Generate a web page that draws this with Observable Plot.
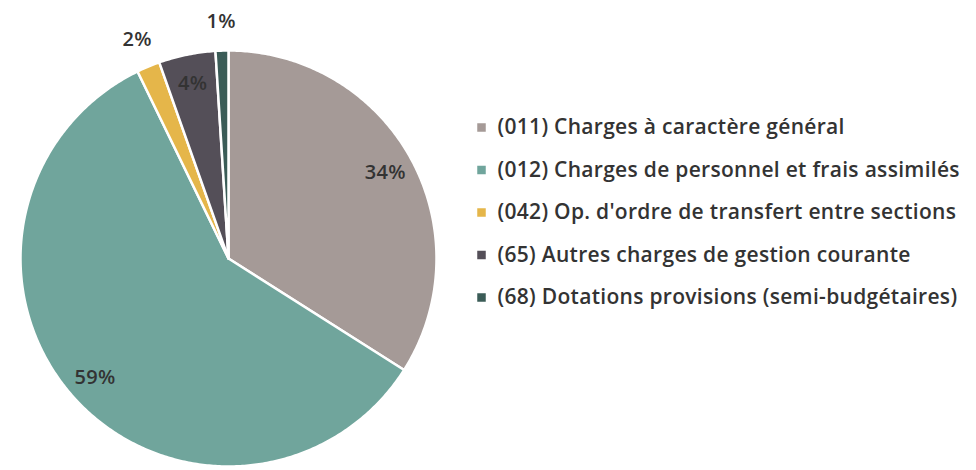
<!DOCTYPE html>
<html><head><meta charset="utf-8">
<script src="https://cdn.jsdelivr.net/npm/d3@7"></script>
<script src="https://cdn.jsdelivr.net/npm/@observablehq/plot@0.6"></script>
<style>body{margin:0;background:#fff;} svg text{letter-spacing:0.3px;}</style>
</head><body><div id="chart"></div>
<script>
const categories = [
  "(011) Charges à caractère général",
  "(012) Charges de personnel et frais assimilés",
  "(042) Op. d'ordre de transfert entre sections",
  "(65) Autres charges de gestion courante",
  "(68) Dotations provisions (semi-budgétaires)"
];
const shares = [34.0, 58.8, 1.8, 4.4, 1.0];
const colors = ["#a59a97", "#70a59c", "#e5b64a", "#544f58", "#3b5c57"];

const W = 976, H = 470, cx = 228, cy = 258, R = 208;
const arcs = d3.pie().sort(null).value(d => d)(shares);

const slicePts = [];
arcs.forEach((p, i) => {
  const k = categories[i];
  slicePts.push({k, x: cx, y: cy});
  const n = Math.max(4, Math.ceil((p.endAngle - p.startAngle) / 0.01));
  for (let j = 0; j <= n; j++) {
    const a = p.startAngle + (p.endAngle - p.startAngle) * j / n;
    slicePts.push({k, x: cx + R * Math.sin(a), y: cy - R * Math.cos(a)});
  }
});

const pctLabels = arcs.map((p, i) => {
  const a = (p.startAngle + p.endAngle) / 2;
  const r = shares[i] < 3 ? R * 1.14 : R * 0.86;
  return {label: Math.round(shares[i]) + "%", x: cx + r * Math.sin(a), y: cy - r * Math.cos(a)};
});

const legendItems = categories.map((k, i) => ({k, y: 127 + i * 42.5}));

const chart = Plot.plot({
  width: W, height: H, margin: 0,
  x: {domain: [0, W], range: [0, W], axis: null},
  y: {domain: [0, H], range: [0, H], axis: null},
  color: {domain: categories, range: colors},
  style: {fontFamily: "'Open Sans', Lato, sans-serif", background: "#fff"},
  marks: [
    Plot.line(slicePts, {x: "x", y: "y", z: "k", fill: "k", stroke: "white", strokeWidth: 2.5, curve: "linear-closed"}),
    Plot.text(pctLabels, {x: "x", y: "y", text: "label", fontSize: 20, fontWeight: 600, fill: "#333"}),
    Plot.dot(legendItems, {x: () => 481, y: "y", symbol: "square", r: 4.8, fill: "k", stroke: null}),
    Plot.text(legendItems, {x: () => 497, y: "y", text: "k", textAnchor: "start", fontSize: 21, fontWeight: 600, fill: "#333"})
  ]
});
document.getElementById("chart").appendChild(chart);
</script>
</body></html>
